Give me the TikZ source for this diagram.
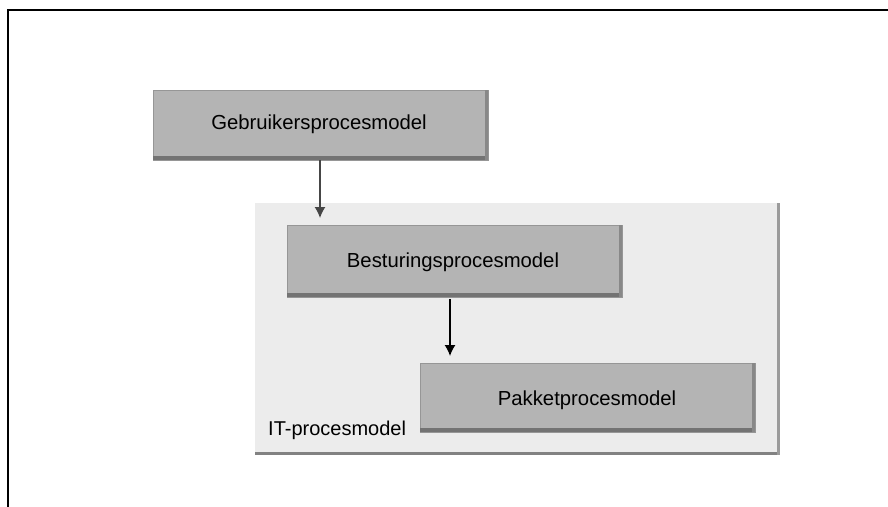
\documentclass[tikz,border=0pt]{standalone}
\usepackage{fontspec}
\setmainfont{Liberation Sans}
\usetikzlibrary{arrows.meta}
\definecolor{boxfill}{RGB}{180,180,180}
\definecolor{boxshade}{RGB}{115,115,115}
\definecolor{boxedge}{RGB}{150,150,150}
\definecolor{itfill}{RGB}{236,236,236}
\definecolor{itshade}{RGB}{130,130,130}
\definecolor{arrowgrey}{RGB}{70,70,70}
\tikzset{
  x=1pt, y=-1pt,
  procbox/.style={rectangle, fill=boxfill, draw=boxedge, line width=0.6pt, inner sep=0pt,
    font=\fontsize{20.3}{24}\selectfont, text=black},
  itbox/.style={rectangle, fill=itfill, draw=none, inner sep=0pt},
  flow/.style={line width=1.4pt, -{Latex[length=11pt,width=11pt]}},
}
\begin{document}
\begin{tikzpicture}
\useasboundingbox (0,0) rectangle (888,506);
\fill[white] (0,0) rectangle (888,506);
% frame
\draw[line width=2pt, line cap=rect] (8,506) -- (8,10) -- (888,10);
% IT container
\node[itbox, minimum width=525pt, minimum height=252pt] (it) at (517.5,329) {};
\fill[itshade] ([yshift=3pt]it.south west) rectangle (it.south east);
\fill[itshade!80!white] ([xshift=-3pt]it.north east) rectangle (it.south east);
% boxes
\node[procbox, minimum width=335pt, minimum height=70pt] (g) at (320.5,125) {};
\node[procbox, minimum width=335pt, minimum height=72pt] (b) at (454.5,261) {};
\node[procbox, minimum width=335pt, minimum height=69pt] (p) at (587.5,397.5) {};
\foreach \n in {g,b,p}{
  \fill[boxshade] ([yshift=4pt]\n.south west) rectangle (\n.south east);
  \fill[boxshade!85!white] ([xshift=-3pt]\n.north east) rectangle (\n.south east);
}
% texts
\node[font=\fontsize{20.3}{24}\selectfont, inner sep=0pt] (gt) at (319,124) {Gebruikersprocesmodel};
\node[font=\fontsize{20.3}{24}\selectfont, inner sep=0pt] (bt) at (453,262) {Besturingsprocesmodel};
\node[font=\fontsize{20.3}{24}\selectfont, inner sep=0pt] (pt) at (587,400) {Pakketprocesmodel};
\node[font=\fontsize{20}{24}\selectfont, inner sep=0pt, anchor=base west] (itl) at (268,435) {IT-procesmodel};
% arrows
\coordinate (a1) at (320,218);
\coordinate (a2) at (450,356);
\draw[flow, draw=arrowgrey, fill=black] (g.south -| a1) -- (a1);
\draw[flow, draw=black, fill=black] ([yshift=-2pt]b.south -| a2) -- (a2);
\end{tikzpicture}
\end{document}
